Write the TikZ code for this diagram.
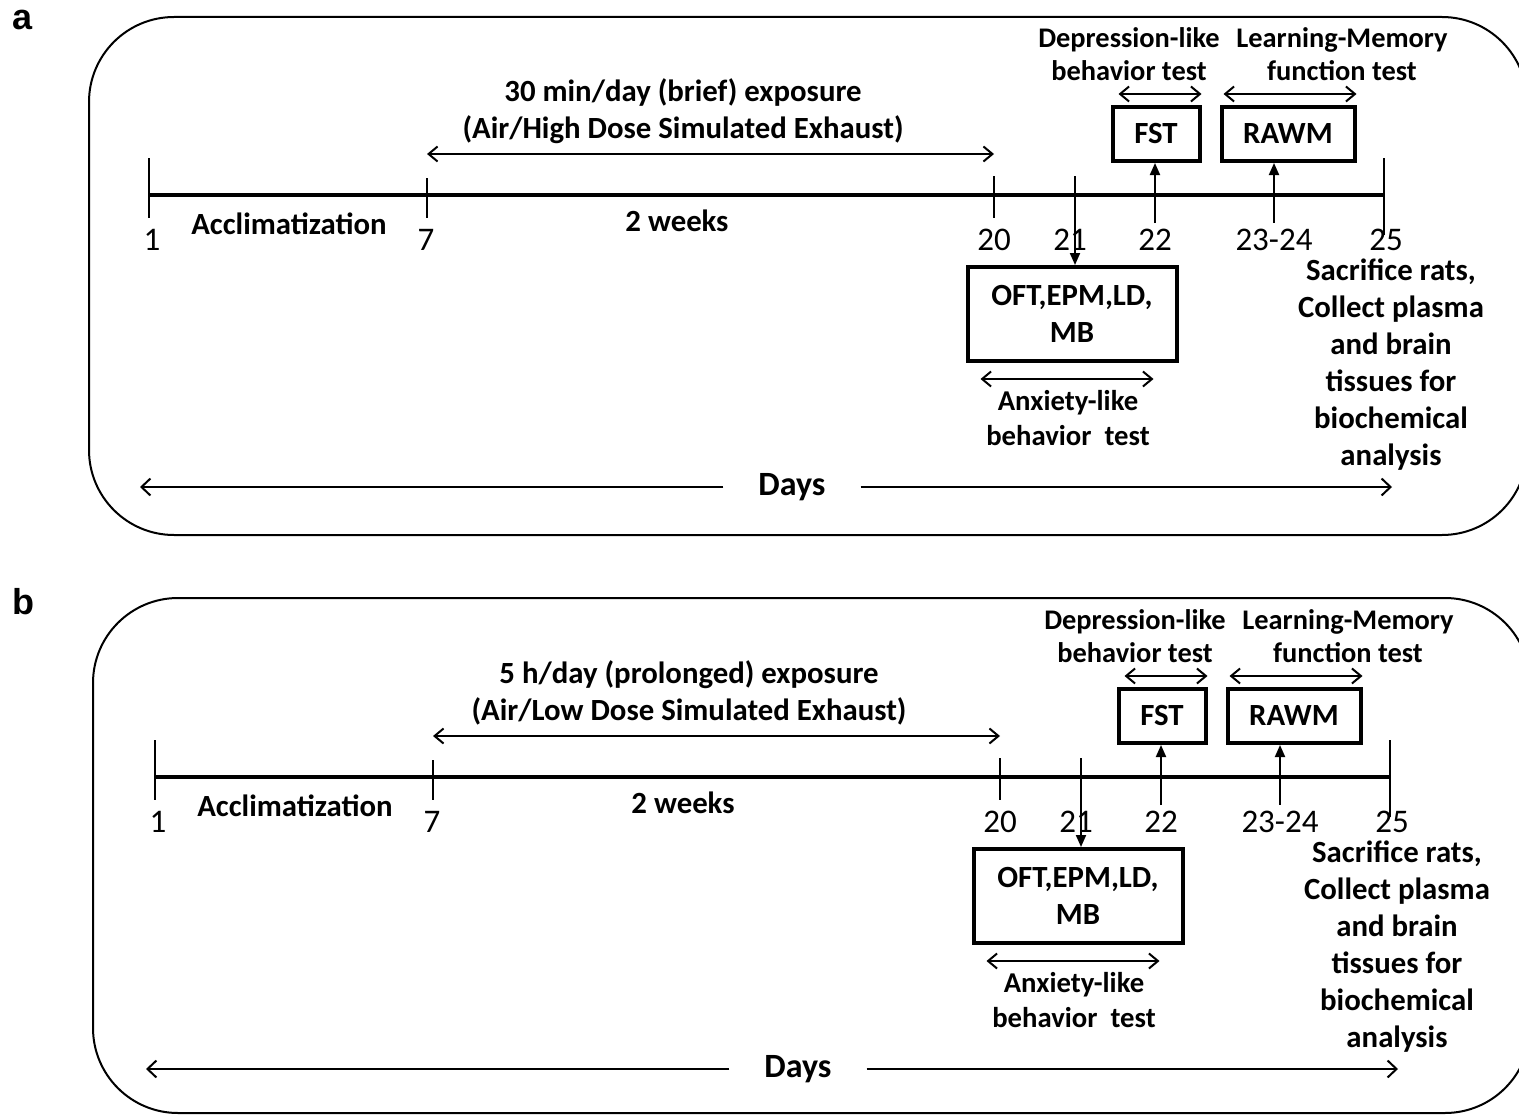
\documentclass[tikz,border=0pt]{standalone}
\usepackage{fontspec}
\setmainfont{Carlito}
\newfontfamily\panelfont{Liberation Sans}
\usetikzlibrary{arrows.meta}

\begin{document}
\begin{tikzpicture}[x=1pt, y=-1pt, color=black,
      every node/.append style={inner sep=0pt, align=center, font=\bfseries\fontsize{30.8}{37}\selectfont},
      frame/.style={line width=2pt, rounded corners=85pt},
      timeline/.style={line width=4pt},
      tick/.style={line width=2pt},
      span/.style={{Straight Barb[length=9pt,width=15pt]}-{Straight Barb[length=9pt,width=15pt]}, line width=2pt},
      days/.style={-{Straight Barb[length=9pt,width=17pt]}, line width=2pt},
      point/.style={-{Triangle[length=12pt,width=10pt]}, line width=2pt},
      testbox/.style={draw, line width=4pt}]
    \tikzstyle{num} = [font=\fontsize{33}{37}\selectfont]
    \tikzstyle{small} = [font=\bfseries\fontsize{28.4}{33}\selectfont]
    \tikzstyle{anx} = [font=\bfseries\fontsize{28.7}{35}\selectfont]
    \tikzstyle{dayword} = [font=\bfseries\fontsize{34}{40}\selectfont, inner xsep=35pt]
    \tikzstyle{panel} = [font=\panelfont\bfseries\fontsize{36}{40}\selectfont]
    \useasboundingbox (0,0) rectangle (1519,1116);

    % panel a
    \node[panel] (alabel) at (23,20) {a};
    \draw[frame] (89,17) rectangle (1527,535);
    \begin{scope}
      \node (atitle) at (683,111) {30 min/day (brief) exposure\\(Air/High Dose Simulated Exhaust)};
      \coordinate (aT1) at (149,195);
      \coordinate (aT25) at (1384,195);
      \coordinate (aT21) at (1075,218);
      \draw[timeline] (aT1) -- (aT25);
      \draw[tick] (149,158) -- (149,218);
      \draw[tick] (427,178) -- (427,218);
      \draw[tick] (994,176) -- (994,218);
      \draw[tick] (1075,176) -- (aT21);
      \draw[tick] (1384,158) -- (1384,235);
      \coordinate (aE7) at (427,154);
      \coordinate (aE20) at (994,154);
      \draw[span] (aE7) -- (aE20);
      \node (aacc) at (289,224) {Acclimatization};
      \node (aweeks) at (677,221) {2 weeks};
      \node[num] (a1) at (152,240) {1};
      \node[num] (a7) at (426,240) {7};
      \node[num] (a20) at (994,240) {20};
      \node[num] (a21) at (1070,240) {21};
      \node[num] (a22) at (1155,240) {22};
      \node[num] (a2324) at (1274,240) {23-24};
      \node[num] (a25) at (1386,240) {25};
      \node[testbox, minimum width=209pt, minimum height=94pt] (aoft) at (1072,314) {OFT,EPM,LD,\\MB};
      \node[testbox, minimum width=87pt, minimum height=54pt] (afst) at (1156,134) {FST};
      \node[testbox, minimum width=133pt, minimum height=54pt] (arawm) at (1288,134) {RAWM};
      \draw[point] (aT21) -- (aT21 |- aoft.north);
      \draw[point] ([yshift=6pt]a22.north) -- (a22 |- afst.south);
      \draw[point] ([yshift=6pt]a2324.north) -- (a2324 |- arawm.south);
      \draw[span] ([xshift=8pt,yshift=11pt]afst.north west) -- ([yshift=11pt]afst.north east);
      \draw[span] ([xshift=4pt,yshift=11pt]arawm.north west) -- ([yshift=11pt]arawm.north east);
      \node[small] (adepr) at (1129,54) {Depression-like\\behavior test};
      \node[small] (alearn) at (1342,54) {Learning-Memory\\function test};
      \draw[span] ([xshift=15pt,yshift=-16pt]aoft.south west) -- ([xshift=-25pt,yshift=-16pt]aoft.south east);
      \node[anx] (aanx) at (1068,418) {Anxiety-like\\behavior\ \ test};
      \node (asac) at (1391,365) {Sacrifice rats,\\Collect plasma\\and brain\\tissues for\\biochemical\\analysis};
      \node[dayword] (adays) at (792,487) {Days};
      \coordinate (adl) at (140,487);
      \coordinate (adr) at (1392,487);
      \draw[days] (adays.west) -- (adl);
      \draw[days] (adays.east) -- (adr);
    \end{scope}

    % panel b
    \node[panel] (blabel) at (23,602) {b};
    \draw[frame] (93,598) rectangle (1530,1113);
    \begin{scope}[shift={(6,582)}]
      \node (btitle) at (683,111) {5 h/day (prolonged) exposure\\(Air/Low Dose Simulated Exhaust)};
      \coordinate (bT1) at (149,195);
      \coordinate (bT25) at (1384,195);
      \coordinate (bT21) at (1075,218);
      \draw[timeline] (bT1) -- (bT25);
      \draw[tick] (149,158) -- (149,218);
      \draw[tick] (427,178) -- (427,218);
      \draw[tick] (994,176) -- (994,218);
      \draw[tick] (1075,176) -- (bT21);
      \draw[tick] (1384,158) -- (1384,235);
      \coordinate (bE7) at (427,154);
      \coordinate (bE20) at (994,154);
      \draw[span] (bE7) -- (bE20);
      \node (bacc) at (289,224) {Acclimatization};
      \node (bweeks) at (677,221) {2 weeks};
      \node[num] (b1) at (152,240) {1};
      \node[num] (b7) at (426,240) {7};
      \node[num] (b20) at (994,240) {20};
      \node[num] (b21) at (1070,240) {21};
      \node[num] (b22) at (1155,240) {22};
      \node[num] (b2324) at (1274,240) {23-24};
      \node[num] (b25) at (1386,240) {25};
      \node[testbox, minimum width=209pt, minimum height=94pt] (boft) at (1072,314) {OFT,EPM,LD,\\MB};
      \node[testbox, minimum width=87pt, minimum height=54pt] (bfst) at (1156,134) {FST};
      \node[testbox, minimum width=133pt, minimum height=54pt] (brawm) at (1288,134) {RAWM};
      \draw[point] (bT21) -- (bT21 |- boft.north);
      \draw[point] ([yshift=6pt]b22.north) -- (b22 |- bfst.south);
      \draw[point] ([yshift=6pt]b2324.north) -- (b2324 |- brawm.south);
      \draw[span] ([xshift=8pt,yshift=11pt]bfst.north west) -- ([yshift=11pt]bfst.north east);
      \draw[span] ([xshift=4pt,yshift=11pt]brawm.north west) -- ([yshift=11pt]brawm.north east);
      \node[small] (bdepr) at (1129,54) {Depression-like\\behavior test};
      \node[small] (blearn) at (1342,54) {Learning-Memory\\function test};
      \draw[span] ([xshift=15pt,yshift=-16pt]boft.south west) -- ([xshift=-25pt,yshift=-16pt]boft.south east);
      \node[anx] (banx) at (1068,418) {Anxiety-like\\behavior\ \ test};
      \node (bsac) at (1391,365) {Sacrifice rats,\\Collect plasma\\and brain\\tissues for\\biochemical\\analysis};
      \node[dayword] (bdays) at (792,487) {Days};
      \coordinate (bdl) at (140,487);
      \coordinate (bdr) at (1392,487);
      \draw[days] (bdays.west) -- (bdl);
      \draw[days] (bdays.east) -- (bdr);
    \end{scope}
\end{tikzpicture}
\end{document}
